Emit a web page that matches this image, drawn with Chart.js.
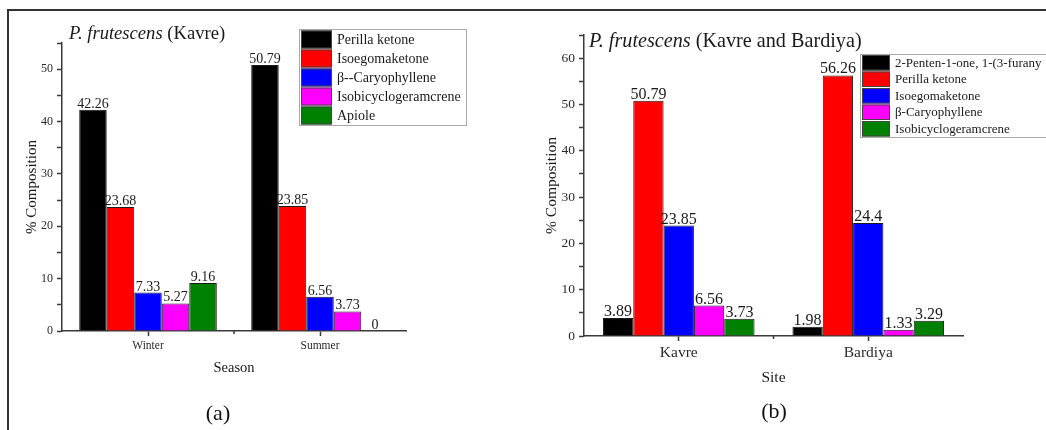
<!DOCTYPE html>
<html><head><meta charset="utf-8">
<script src="https://cdn.jsdelivr.net/npm/chart.js@4/dist/chart.umd.min.js"></script>
<style>
body{margin:0;background:#fff;width:1046px;height:430px;overflow:hidden;position:relative;font-family:'Liberation Serif','Times New Roman',serif;}
#frame{position:absolute;left:7px;top:9px;width:1100px;height:500px;border-top:2px solid #333;border-left:2px solid #333;}
canvas{position:absolute;top:0;}
#ca{left:0}
#cb{left:520px}
.t{position:absolute;line-height:20px;color:#1a1a1a;white-space:nowrap;}
.p{position:absolute;font-size:22px;line-height:22px;color:#111;transform:translateX(-50%);}
</style></head><body>
<div id="frame"></div>
<canvas id="ca" width="520" height="430"></canvas>
<canvas id="cb" width="526" height="430"></canvas>
<div class="t" style="left:69px;top:23px;font-size:18.6px"><i>P. frutescens</i> (Kavre)</div>
<div class="t" style="left:589px;top:30px;font-size:20.2px"><i>P. frutescens</i> (Kavre and Bardiya)</div>
<div class="p" style="left:218px;top:402px">(a)</div>
<div class="p" style="left:774px;top:400px">(b)</div>
<script>
// ---- Data: panel (a) Season ----
const seasonLabels = ['Winter', 'Summer'];
const seasonSeriesNames = ['Perilla ketone', 'Isoegomaketone', 'β--Caryophyllene', 'Isobicyclogeramcrene', 'Apiole'];
const seasonPerillaKetone = [42.26, 50.79];
const seasonIsoegomaketone = [23.68, 23.85];
const seasonCaryophyllene = [7.33, 6.56];
const seasonIsobicyclo = [5.27, 3.73];
const seasonApiole = [9.16, 0];
const seasonTicks = [0, 10, 20, 30, 40, 50];

// ---- Data: panel (b) Site ----
const siteLabels = ['Kavre', 'Bardiya'];
const siteSeriesNames = ['2-Penten-1-one, 1-(3-furany', 'Perilla ketone', 'Isoegomaketone', 'β-Caryophyllene', 'Isobicyclogeramcrene'];
const sitePentenone = [3.89, 1.98];
const sitePerillaKetone = [50.79, 56.26];
const siteIsoegomaketone = [23.85, 24.4];
const siteCaryophyllene = [6.56, 1.33];
const siteIsobicyclo = [3.73, 3.29];
const siteTicks = [0, 10, 20, 30, 40, 50, 60];

const seriesColors = ['#000000', '#ff0000', '#0000ff', '#ff00ff', '#008000'];
const FAM = "'Liberation Serif','Times New Roman',serif";

const extras = {
  id: 'extras',
  afterDatasetsDraw(chart, args, o) {
    const ctx = chart.ctx;
    ctx.save();
    // value labels
    ctx.font = o.valueSize + 'px ' + FAM;
    ctx.fillStyle = '#1a1a1a';
    ctx.textAlign = 'center';
    ctx.textBaseline = 'alphabetic';
    chart.data.datasets.forEach((ds, i) => {
      chart.getDatasetMeta(i).data.forEach((bar, j) => {
        ctx.fillText(String(ds.data[j]), bar.x, bar.y - 2);
      });
    });
    // minor x tick at category boundaries
    const xs = chart.scales.x;
    ctx.strokeStyle = '#3a3a3a';
    ctx.lineWidth = 1.5;
    for (let k = 0; k < chart.data.labels.length - 1; k++) {
      const px = (xs.getPixelForTick(k) + xs.getPixelForTick(k + 1)) / 2;
      ctx.beginPath();
      ctx.moveTo(px, xs.top);
      ctx.lineTo(px, xs.top + 3);
      ctx.stroke();
    }
    // legend
    const L = o.legend;
    ctx.fillStyle = '#fff';
    ctx.fillRect(L.x, L.y, L.w, L.h);
    ctx.strokeStyle = '#aaa';
    ctx.lineWidth = 1;
    ctx.strokeRect(L.x + 0.5, L.y + 0.5, L.w, L.h);
    ctx.font = L.size + 'px ' + FAM;
    ctx.textAlign = 'left';
    ctx.textBaseline = 'middle';
    chart.data.datasets.forEach((ds, i) => {
      const top = L.y + L.first + i * L.row;
      ctx.fillStyle = ds.backgroundColor;
      ctx.fillRect(L.x + 2, top, L.sw, L.row - 1);
      ctx.strokeStyle = '#444';
      ctx.strokeRect(L.x + 2.5, top + 0.5, L.sw - 1, L.row - 2);
      ctx.fillStyle = '#1a1a1a';
      ctx.fillText(ds.label, L.x + L.tx, top + L.row / 2);
    });
    ctx.restore();
  }
};

function makeChart(id, labels, names, series, tickVals, c) {
  return new Chart(document.getElementById(id), {
    type: 'bar',
    data: {
      labels: labels,
      datasets: names.map((n, i) => ({
        label: n, data: series[i], backgroundColor: seriesColors[i],
        borderColor: '#1a1a1a', borderWidth: 1,
        categoryPercentage: 0.8, barPercentage: 1.0
      }))
    },
    options: {
      responsive: false, animation: false, devicePixelRatio: 1,
      layout: { padding: { left: 10, top: c.top, right: c.right, bottom: c.bottom } },
      plugins: {
        legend: { display: false }, tooltip: { enabled: false },
        extras: { valueSize: c.valueSize, legend: c.legend }
      },
      scales: {
        x: {
          grid: { display: true, drawOnChartArea: false, offset: false, tickLength: 5, color: '#3a3a3a', tickWidth: 1.5 },
          border: { color: '#3a3a3a', width: 1.5 },
          ticks: { font: { family: FAM, size: c.xTickSize }, color: '#2a2a2a', padding: 3 },
          title: { display: true, text: c.xTitle, font: { family: FAM, size: c.xTitleSize }, color: '#1a1a1a', padding: { top: 0, bottom: c.xTitlePad } },
          afterFit(s) { s.height = c.xHeight; }
        },
        y: {
          min: 0, max: c.max,
          ticks: { stepSize: 5, font: { family: FAM, size: c.yTickSize }, color: '#2a2a2a', padding: 4,
            callback: v => tickVals.includes(v) ? String(v) : '' },
          grid: { drawOnChartArea: false, tickLength: 5, color: '#3a3a3a', tickWidth: 1.5 },
          border: { color: '#3a3a3a', width: 1.5 },
          title: { display: true, text: '% Composition', font: { family: FAM, size: c.yTitleSize }, color: '#1a1a1a', padding: { top: c.yTitlePad, bottom: 0 } },
          afterFit(s) { s.width = c.yWidth; }
        }
      }
    },
    plugins: [extras]
  });
}

makeChart('ca', seasonLabels, seasonSeriesNames,
  [seasonPerillaKetone, seasonIsoegomaketone, seasonCaryophyllene, seasonIsobicyclo, seasonApiole],
  seasonTicks,
  { top: 43, right: 114, bottom: 40, xHeight: 59, yWidth: 52, max: 55,
    xTickSize: 11.5, yTickSize: 12, xTitle: 'Season', xTitleSize: 14.5, xTitlePad: 13,
    yTitleSize: 15, yTitlePad: 13, valueSize: 14,
    legend: { x: 299, y: 29, w: 167, h: 96, first: 1.5, row: 19, sw: 31, tx: 38, size: 14 } });

makeChart('cb', siteLabels, siteSeriesNames,
  [sitePentenone, sitePerillaKetone, siteIsoegomaketone, siteCaryophyllene, siteIsobicyclo],
  siteTicks,
  { top: 35, right: 83, bottom: 30, xHeight: 64, yWidth: 54, max: 65,
    xTickSize: 15.5, yTickSize: 13.5, xTitle: 'Site', xTitleSize: 15.5, xTitlePad: 12.4,
    yTitleSize: 15.5, yTitlePad: 12.5, valueSize: 16,
    legend: { x: 340, y: 54, w: 300, h: 83, first: 1, row: 16.5, sw: 28, tx: 35, size: 13 } });
</script>
</body></html>
